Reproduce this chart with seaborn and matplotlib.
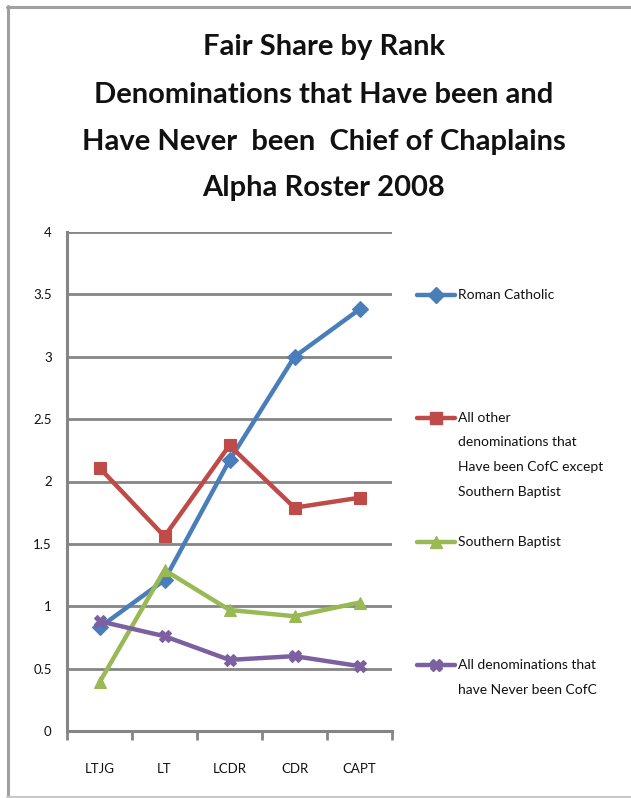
import matplotlib
matplotlib.use("Agg")
import matplotlib.pyplot as plt
import seaborn as sns
import pandas as pd
from matplotlib.lines import Line2D

# ---------------- data ----------------
ranks = ["LTJG", "LT", "LCDR", "CDR", "CAPT"]
roman_catholic = [0.83, 1.21, 2.17, 3.00, 3.38]
other_cofc = [2.11, 1.56, 2.29, 1.79, 1.87]
southern_baptist = [0.39, 1.29, 0.97, 0.92, 1.03]
never_cofc = [0.88, 0.76, 0.57, 0.60, 0.52]

series_names = [
    "Roman Catholic",
    "All other\ndenominations that\nHave been CofC except\nSouthern Baptist",
    "Southern Baptist",
    "All denominations that\nhave Never been CofC",
]
y_ticks = [0, 0.5, 1, 1.5, 2, 2.5, 3, 3.5, 4]
y_tick_labels = ["0", "0.5", "1", "1.5", "2", "2.5", "3", "3.5", "4"]
title_lines = [
    "Fair Share by Rank",
    "Denominations that Have been and",
    "Have Never  been  Chief of Chaplains",
    "Alpha Roster 2008",
]

colors = ["#4A7EBB", "#BE4B48", "#98B954", "#7D60A0"]
markers = ["D", "s", "^", "X"]

# ---------------- style ----------------
sns.set_style("white")
plt.rcParams["font.family"] = ["Lato", "DejaVu Sans"]

W, H = 631, 798
fig = plt.figure(figsize=(W / 100, H / 100), dpi=100)

def fx(px):
    return px / W

def fy(py):
    return 1 - py / H

ax = fig.add_axes([fx(67), fy(731), fx(392) - fx(67), fy(232) - fy(731)])

all_values = [roman_catholic, other_cofc, southern_baptist, never_cofc]
rows = []
for name, vals in zip(series_names, all_values):
    for r, v in zip(ranks, vals):
        rows.append({"rank": r, "value": v, "series": name})
df = pd.DataFrame(rows)

palette = dict(zip(series_names, colors))
marker_map = dict(zip(series_names, markers))

sns.lineplot(
    data=df, x="rank", y="value", hue="series", style="series",
    palette=palette, markers=marker_map, dashes=False, sort=False,
    linewidth=3.2, markersize=8.5, markeredgewidth=0.8, ax=ax, legend=False,
)
for ln, c in zip(ax.lines, colors):
    ln.set_markeredgecolor(c)

ax.set_xlim(-0.5, len(ranks) - 0.5)
ax.set_ylim(0, 4)
ax.set_yticks(y_ticks)
ax.set_yticklabels(y_tick_labels)
ax.set_xticks(range(len(ranks)))
ax.set_xticklabels(ranks)
ax.set_xticks([i - 0.5 for i in range(len(ranks) + 1)], minor=True)
ax.set_xlabel("")
ax.set_ylabel("")

gray = "#858585"
ax.yaxis.grid(True, color=gray, linewidth=2.0)
ax.xaxis.grid(False)
ax.set_axisbelow(True)
for s in ["top", "right"]:
    ax.spines[s].set_visible(False)
for s in ["left", "bottom"]:
    ax.spines[s].set_color(gray)
    ax.spines[s].set_linewidth(2.2)

ax.tick_params(axis="y", which="major", length=6, width=2.0, color=gray,
               labelsize=9.5, pad=5, labelcolor="#111111")
ax.tick_params(axis="x", which="major", length=0, labelsize=9.5, pad=23,
               labelcolor="#111111")
ax.tick_params(axis="x", which="minor", length=6.5, width=2.0, color=gray,
               direction="out", bottom=True)

# ---------------- title ----------------
for line, y in zip(title_lines, [47, 95, 142, 188]):
    fig.text(fx(324), fy(y), line, ha="center", va="center",
             fontsize=21, fontweight="bold", color="#111111")

# ---------------- legend (manual placement like Excel) ----------------
legend_y = [295, 418, 542, 665]
for name, c, m, y in zip(series_names, colors, markers, legend_y):
    ln = Line2D([fx(417), fx(436), fx(455)], [fy(y)] * 3, transform=fig.transFigure,
                color=c, linewidth=3.2, marker=m, markevery=[1], markersize=8.5,
                markerfacecolor=c, markeredgecolor=c)
    fig.add_artist(ln)
    fig.text(fx(458), fy(y - 6), name, ha="left", va="top", fontsize=10,
             color="#111111", linespacing=2.25)

# ---------------- outer chart border ----------------
border_color = "#A0A0A0"
fig.add_artist(Line2D([fx(7), fx(W + 5)], [fy(6.5), fy(6.5)], transform=fig.transFigure,
                      color=border_color, linewidth=2.2))
fig.add_artist(Line2D([fx(8), fx(8)], [fy(6), fy(797)], transform=fig.transFigure,
                      color=border_color, linewidth=2.2))
fig.add_artist(Line2D([fx(7), fx(W + 5)], [fy(797), fy(797)], transform=fig.transFigure,
                      color="#C8C8C8", linewidth=1.5))

fig.savefig("out.png", dpi=100)
